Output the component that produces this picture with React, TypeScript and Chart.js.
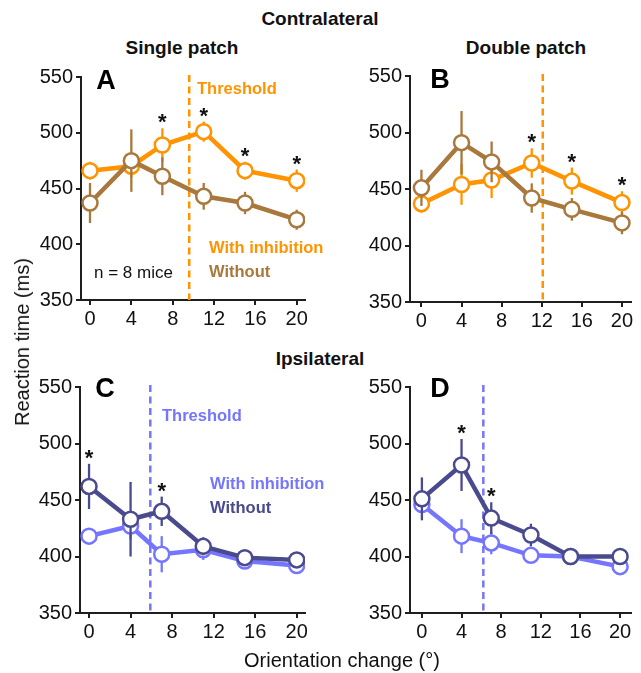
import React, { useEffect, useRef } from "react";
import { Chart, registerables } from "chart.js";

Chart.register(...registerables);

// ---------- data ----------
const xValues = [0, 4, 7, 11, 15, 20];
const xTicks = [0, 4, 8, 12, 16, 20];
const yTicks = [350, 400, 450, 500, 550];

// A: contralateral, single patch
const withInhA = [466, 470, 489, 501, 466, 457];
const withInhErrA = [8, 10, 15, 9, 8, 10];
const withoutA = [437, 475, 461, 443, 437, 422];
const withoutErrA = [18, 28, 17, 12, 10, 9];
const thresholdA = 9.6;
const starsA = [7, 11, 15, 20];

// B: contralateral, double patch
const withInhB = [437, 454, 458, 473, 457, 438];
const withInhErrB = [8, 18, 16, 13, 12, 10];
const withoutB = [451, 491, 474, 442, 432, 420];
const withoutErrB = [16, 28, 18, 13, 10, 10];
const thresholdB = 12.1;
const starsB = [11, 15, 20];

// C: ipsilateral, single patch
const withInhC = [418, 427, 402, 406, 396, 392];
const withInhErrC = [7, 12, 16, 9, 7, 7];
const withoutC = [462, 433, 440, 409, 399, 397];
const withoutErrC = [20, 33, 13, 8, 6, 5];
const thresholdC = 5.9;
const starsC = [0, 7];

// D: ipsilateral, double patch
const withInhD = [446, 418, 412, 401, 400, 391];
const withInhErrD = [6, 15, 10, 6, 5, 5];
const withoutD = [451, 481, 434, 419, 400, 400];
const withoutErrD = [19, 23, 14, 10, 6, 4];
const thresholdD = 6.2;
const starsD = [4, 7];

// ---------- styles ----------
const ORANGE = "#FF9300";
const BROWN = "#A8783C";
const LIGHTBLUE = "#7575FF";
const DARKBLUE = "#4A4A8E";
const FONT = "'Liberation Sans', Arial, Helvetica, sans-serif";
const AXIS = "#1e1e1e";

type Series = { data: number[]; err: number[]; color: string };

type PanelProps = {
  x0: number; y0: number; w: number; h: number;
  l: number; t: number; r: number; b: number;
  xMin: number; xMax: number;
  series: Series[]; // first is drawn on top
  threshold: number; thresholdColor: string;
  stars: number[];
};

function Panel(p: PanelProps) {
  const ref = useRef<HTMLCanvasElement | null>(null);
  useEffect(() => {
    const canvas = ref.current;
    if (!canvas) return;
    const yAxisW = p.l - p.x0;
    const padTop = p.t - p.y0;
    const xAxisH = p.y0 + p.h - p.b;
    const padRight = p.x0 + p.w - p.r;

    const extras = {
      id: "extras",
      beforeDatasetsDraw(chart: any) {
        const { ctx, chartArea, scales } = chart;
        const px = scales.x.getPixelForValue(p.threshold);
        ctx.save();
        ctx.strokeStyle = p.thresholdColor;
        ctx.lineWidth = 2.5;
        ctx.setLineDash([7, 4.5]);
        ctx.beginPath();
        ctx.moveTo(px, chartArea.top - 2);
        ctx.lineTo(px, chartArea.bottom);
        ctx.stroke();
        ctx.restore();
      },
      beforeDatasetDraw(chart: any, args: any) {
        const s = p.series[args.index];
        const { ctx, scales } = chart;
        ctx.save();
        ctx.strokeStyle = s.color;
        ctx.lineWidth = 2.3;
        s.data.forEach((v, i) => {
          const x = scales.x.getPixelForValue(xValues[i]);
          const y1 = scales.y.getPixelForValue(v - s.err[i]);
          const y2 = scales.y.getPixelForValue(v + s.err[i]);
          ctx.beginPath();
          ctx.moveTo(x, y1);
          ctx.lineTo(x, y2);
          ctx.stroke();
        });
        ctx.restore();
      },
      afterDatasetsDraw(chart: any) {
        const { ctx, scales } = chart;
        ctx.save();
        ctx.fillStyle = "#111";
        ctx.font = `bold 22px ${FONT}`;
        ctx.textAlign = "center";
        ctx.textBaseline = "alphabetic";
        p.stars.forEach((sx) => {
          const i = xValues.indexOf(sx);
          let top = Infinity;
          p.series.forEach((s) => {
            top = Math.min(top, scales.y.getPixelForValue(s.data[i] + s.err[i]));
          });
          ctx.fillText("*", scales.x.getPixelForValue(sx), top + 1);
        });
        ctx.restore();
      },
    };

    const chart = new Chart(canvas, {
      type: "line",
      data: {
        datasets: p.series.map((s) => ({
          data: s.data.map((v, i) => ({ x: xValues[i], y: v })),
          borderColor: s.color,
          borderWidth: 4.5,
          pointRadius: 7.5,
          pointBorderWidth: 2.5,
          pointBackgroundColor: "#ffffff",
          pointBorderColor: s.color,
          tension: 0,
          fill: false,
        })),
      },
      options: {
        responsive: false,
        animation: false,
        events: [],
        layout: { padding: { top: padTop, right: padRight, left: 0, bottom: 0 } },
        plugins: { legend: { display: false }, tooltip: { enabled: false } },
        scales: {
          x: {
            type: "linear",
            min: p.xMin,
            max: p.xMax,
            afterBuildTicks: (scale: any) => {
              scale.ticks = xTicks.map((v) => ({ value: v }));
            },
            afterFit: (scale: any) => {
              scale.height = xAxisH;
            },
            ticks: {
              color: "#111",
              font: { family: FONT, size: 20 },
              padding: 2,
              maxRotation: 0,
              autoSkip: false,
            },
            grid: {
              display: true,
              drawOnChartArea: false,
              drawTicks: true,
              tickLength: 5,
              color: AXIS,
              lineWidth: 2,
            },
            border: { display: true, color: AXIS, width: 2 },
          },
          y: {
            type: "linear",
            min: 350,
            max: 550,
            afterBuildTicks: (scale: any) => {
              scale.ticks = yTicks.map((v) => ({ value: v }));
            },
            afterFit: (scale: any) => {
              scale.width = yAxisW;
            },
            ticks: {
              color: "#111",
              font: { family: FONT, size: 20 },
              padding: 3,
              autoSkip: false,
            },
            grid: {
              display: true,
              drawOnChartArea: false,
              drawTicks: true,
              tickLength: 5,
              color: AXIS,
              lineWidth: 2,
            },
            border: { display: true, color: AXIS, width: 2 },
          },
        },
      },
      plugins: [extras],
    } as any);
    return () => chart.destroy();
  }, []);
  return (
    <canvas
      ref={ref}
      width={p.w}
      height={p.h}
      style={{ position: "absolute", left: p.x0, top: p.y0, width: p.w, height: p.h }}
    />
  );
}

function T(props: {
  x: number; y: number; size: number; bold?: boolean; color?: string;
  align?: "center" | "left"; rotate?: number; children: React.ReactNode;
}) {
  const { x, y, size, bold, color = "#111", align = "center", rotate } = props;
  const tx = align === "center" ? "-50%" : "0";
  return (
    <div
      style={{
        position: "absolute",
        left: x,
        top: y,
        transform: `translate(${tx}, -50%)${rotate ? ` rotate(${rotate}deg)` : ""}`,
        fontSize: size,
        fontWeight: bold ? 700 : 400,
        color,
        lineHeight: 1,
        whiteSpace: "nowrap",
        fontFamily: FONT,
      }}
    >
      {props.children}
    </div>
  );
}

export default function App() {
  return (
    <div
      style={{
        position: "absolute",
        left: 0,
        top: 0,
        width: 641,
        height: 673,
        background: "#ffffff",
        overflow: "hidden",
        fontFamily: FONT,
      }}
    >
      <Panel
        x0={0} y0={60} w={320} h={285}
        l={81} t={77} r={305} b={300}
        xMin={-0.87} xMax={20.8}
        series={[
          { data: withoutA, err: withoutErrA, color: BROWN },
          { data: withInhA, err: withInhErrA, color: ORANGE },
        ]}
        threshold={thresholdA} thresholdColor={ORANGE} stars={starsA}
      />
      <Panel
        x0={330} y0={60} w={311} h={285}
        l={410} t={76} r={637} b={302}
        xMin={-1.14} xMax={20.9}
        series={[
          { data: withoutB, err: withoutErrB, color: BROWN },
          { data: withInhB, err: withInhErrB, color: ORANGE },
        ]}
        threshold={thresholdB} thresholdColor={ORANGE} stars={starsB}
      />
      <Panel
        x0={0} y0={370} w={320} h={285}
        l={80} t={387} r={305} b={613}
        xMin={-0.87} xMax={20.8}
        series={[
          { data: withoutC, err: withoutErrC, color: DARKBLUE },
          { data: withInhC, err: withInhErrC, color: LIGHTBLUE },
        ]}
        threshold={thresholdC} thresholdColor={LIGHTBLUE} stars={starsC}
      />
      <Panel
        x0={330} y0={370} w={311} h={285}
        l={410} t={387} r={638} b={613}
        xMin={-1.2} xMax={21.1}
        series={[
          { data: withoutD, err: withoutErrD, color: DARKBLUE },
          { data: withInhD, err: withInhErrD, color: LIGHTBLUE },
        ]}
        threshold={thresholdD} thresholdColor={LIGHTBLUE} stars={starsD}
      />

      <T x={320} y={18} size={19} bold>Contralateral</T>
      <T x={182} y={47} size={19} bold>Single patch</T>
      <T x={526} y={47} size={19} bold>Double patch</T>
      <T x={320} y={358} size={19} bold>Ipsilateral</T>

      <T x={106} y={80} size={27} bold color="#000">A</T>
      <T x={440} y={79} size={27} bold color="#000">B</T>
      <T x={105} y={388} size={27} bold color="#000">C</T>
      <T x={440} y={388} size={27} bold color="#000">D</T>

      <T x={197} y={88} size={16.5} bold color={ORANGE} align="left">Threshold</T>
      <T x={209} y={247} size={16.5} bold color={ORANGE} align="left">With inhibition</T>
      <T x={209} y={271} size={16.5} bold color={BROWN} align="left">Without</T>
      <T x={94} y={272} size={17} align="left">n = 8 mice</T>

      <T x={162} y={415} size={16.5} bold color={LIGHTBLUE} align="left">Threshold</T>
      <T x={210} y={483} size={16.5} bold color={LIGHTBLUE} align="left">With inhibition</T>
      <T x={210} y={507} size={16.5} bold color={DARKBLUE} align="left">Without</T>

      <T x={22} y={342} size={20} rotate={-90}>Reaction time (ms)</T>
      <T x={342} y={660} size={20}>Orientation change (°)</T>
    </div>
  );
}
